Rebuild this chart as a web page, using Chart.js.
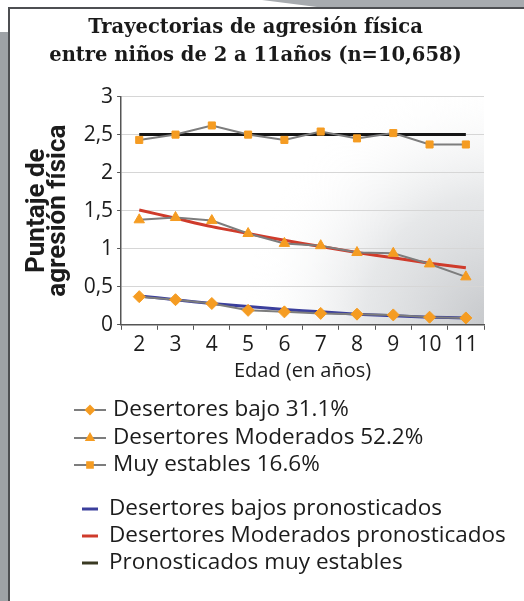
<!DOCTYPE html>
<html>
<head>
  <meta charset="UTF-8">
  <title>Trayectorias de agresión física</title>
  <script src="https://cdn.jsdelivr.net/npm/chart.js"></script>
  <style>
    html, body { margin: 0; padding: 0; background: #fff; }
    #wrap { position: relative; width: 524px; height: 601px; overflow: hidden; }
    #topband { position: absolute; left: 0; top: 0; width: 524px; height: 8px; background: #a7abaf;
               clip-path: polygon(50% 0, 100% 0, 100% 100%, 62% 100%); }
    #leftband { position: absolute; left: 0; top: 32px; width: 8px; height: 569px; background: #9ea2a6; }
    #panel { position: absolute; left: 8px; top: 7px; width: 516px; height: 594px;
             border-left: 2px solid #4d4f52; border-top: 2px solid #4d4f52; box-sizing: border-box; }
    #chart-container { position: absolute; left: 0; top: 0; width: 524px; height: 601px; }
  </style>
</head>
<body>
<div id="wrap">
  <div id="topband"></div>
  <div id="leftband"></div>
  <div id="panel"></div>
  <div id="chart-container">
    <canvas id="myChart"></canvas>
  </div>
</div>
<script>
  // edades (eje x)
  const ages = ['2', '3', '4', '5', '6', '7', '8', '9', '10', '11'];

  // trayectorias observadas
  const lowObs    = [0.37, 0.33, 0.28, 0.19, 0.17, 0.15, 0.14, 0.13, 0.10, 0.09];
  const modObs    = [1.38, 1.41, 1.37, 1.20, 1.07, 1.04, 0.95, 0.94, 0.80, 0.63];
  const stableObs = [2.43, 2.50, 2.62, 2.50, 2.43, 2.54, 2.45, 2.52, 2.37, 2.37];

  // trayectorias pronosticadas
  const lowPred    = [0.38, 0.33, 0.28, 0.24, 0.20, 0.17, 0.14, 0.12, 0.10, 0.09];
  const modPred    = [1.51, 1.40, 1.29, 1.20, 1.11, 1.03, 0.95, 0.88, 0.81, 0.75];
  const stablePred = [2.50, 2.50, 2.50, 2.50, 2.50, 2.50, 2.50, 2.50, 2.50, 2.50];

  const obsLabels  = ['Desertores bajo 31.1%', 'Desertores Moderados 52.2%', 'Muy estables 16.6%'];
  const predLabels = ['Desertores bajos pronosticados', 'Desertores Moderados pronosticados', 'Pronosticados muy estables'];

  const ORANGE = '#f59c22';
  const GRAY = '#7d7d7d';

  function obsSet(label, data, style, r) {
    return {
      label: label, data: data, order: 0,
      borderColor: GRAY, borderWidth: 2,
      pointStyle: style, pointRadius: r, pointHoverRadius: r,
      pointBackgroundColor: ORANGE, pointBorderColor: ORANGE, pointBorderWidth: 1,
      tension: 0
    };
  }
  function predSet(label, data, color) {
    return {
      label: label, data: data, order: 1,
      borderColor: color, borderWidth: 3, pointRadius: 0, tension: 0.3
    };
  }

  const data = {
    labels: ages,
    datasets: [
      obsSet(obsLabels[0], lowObs, 'rectRot', 6),
      obsSet(obsLabels[1], modObs, 'triangle', 6),
      obsSet(obsLabels[2], stableObs, 'rect', 5),
      predSet(predLabels[0], lowPred, '#3b3f9c'),
      predSet(predLabels[1], modPred, '#cf3b2b'),
      predSet(predLabels[2], stablePred, '#151515')
    ]
  };

  // fondo degradado del área del gráfico
  const bgPlugin = {
    id: 'bg',
    beforeDraw(chart) {
      const a = chart.chartArea, ctx = chart.ctx;
      const g = ctx.createRadialGradient(a.right + 10, a.bottom, 10, a.right + 10, a.bottom, 250);
      g.addColorStop(0, 'rgba(200,202,205,1)');
      g.addColorStop(0.5, 'rgba(222,224,226,0.75)');
      g.addColorStop(1, 'rgba(255,255,255,0)');
      ctx.save();
      ctx.fillStyle = g;
      ctx.fillRect(a.left, a.top, a.right - a.left, a.bottom - a.top);
      ctx.restore();
    }
  };

  // leyenda en dos grupos
  const legendPlugin = {
    id: 'twoLegend',
    afterDraw(chart) {
      const ctx = chart.ctx;
      const ds = chart.data.datasets;
      ctx.save();
      ctx.font = '22.5px "Open Sans"';
      ctx.textBaseline = 'middle';
      const rows1 = [410, 438, 465];
      for (let i = 0; i < 3; i++) {
        const y = rows1[i];
        ctx.strokeStyle = GRAY; ctx.lineWidth = 2;
        ctx.beginPath(); ctx.moveTo(74, y); ctx.lineTo(106, y); ctx.stroke();
        ctx.fillStyle = ORANGE; ctx.strokeStyle = ORANGE;
        Chart.helpers.drawPoint(ctx, {
          pointStyle: ds[i].pointStyle, radius: 4, rotation: 0, borderWidth: 1
        }, 90, y);
        ctx.fillStyle = '#1c1c1c';
        ctx.fillText(ds[i].label, 113, y);
      }
      const rows2 = [509, 536, 563];
      for (let i = 0; i < 3; i++) {
        const y = rows2[i];
        const d = ds[i + 3];
        ctx.strokeStyle = i === 2 ? '#3a3a22' : d.borderColor; ctx.lineWidth = 3;
        ctx.beginPath(); ctx.moveTo(82, y); ctx.lineTo(98, y); ctx.stroke();
        ctx.fillStyle = '#1c1c1c';
        ctx.fillText(d.label, 109, y);
      }
      ctx.restore();
    }
  };

  const config = {
    type: 'line',
    data: data,
    options: {
      responsive: true,
      maintainAspectRatio: false,
      animation: false,
      layout: { padding: { left: 27, right: 40, top: 14, bottom: 218 } },
      plugins: {
        legend: { display: false },
        tooltip: { enabled: false },
        title: {
          display: true,
          text: ['Trayectorias de agresión física', 'entre niños de 2 a 11años (n=10,658)'],
          color: '#1a1a1a',
          font: { family: '"DejaVu Serif"', size: 19.5, weight: 'bold', lineHeight: 1.45 },
          padding: { top: 0, bottom: 26 }
        }
      },
      scales: {
        x: {
          offset: true,
          grid: { display: true, drawOnChartArea: false, offset: true, tickLength: 5, color: '#555' },
          border: { color: '#555', width: 1.5 },
          ticks: { color: '#1c1c1c', font: { family: '"Open Sans"', size: 21 }, padding: 3, maxRotation: 0 },
          title: {
            display: true, text: 'Edad (en años)', color: '#1c1c1c',
            font: { family: '"Open Sans"', size: 20 }, padding: { top: -2, bottom: 0 }
          }
        },
        y: {
          min: 0, max: 3,
          ticks: {
            stepSize: 0.5, color: '#1c1c1c', font: { family: '"Open Sans"', size: 21 }, padding: 4,
            callback: v => String(v).replace('.', ',')
          },
          grid: { color: '#d6d6d6', tickLength: 4, tickColor: '#555' },
          border: { color: '#555', width: 1.5 },
          title: {
            display: true, text: ['Puntaje de', 'agresión física'], color: '#1c1c1c',
            font: { family: 'Roboto', size: 26, weight: 'bold', lineHeight: 0.82 },
            padding: { top: 0, bottom: 10 }
          }
        }
      }
    },
    plugins: [bgPlugin, legendPlugin]
  };

  new Chart(document.getElementById('myChart'), config);
</script>
</body>
</html>
